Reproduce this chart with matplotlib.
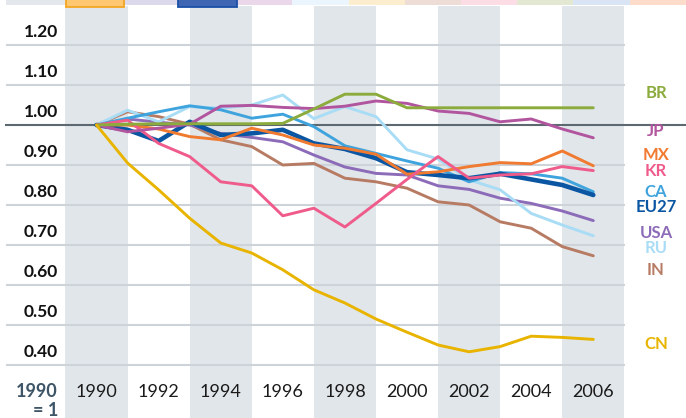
import matplotlib
matplotlib.use("Agg")
import matplotlib.pyplot as plt
from matplotlib.patches import Rectangle

# ---------------- data ----------------
years = list(range(1990, 2007))
tick_years = [1990, 1992, 1994, 1996, 1998, 2000, 2002, 2004, 2006]
y_ticks = [1.20, 1.10, 1.00, 0.90, 0.80, 0.70, 0.60, 0.50, 0.40]

BR = [1.00, 1.002, 1.003, 1.003, 1.003, 1.003, 1.004, 1.040, 1.077, 1.077,
      1.043, 1.043, 1.043, 1.043, 1.043, 1.043, 1.043]
JP = [1.00, 0.983, 0.992, 1.002, 1.047, 1.049, 1.044, 1.041, 1.047, 1.060,
      1.054, 1.035, 1.029, 1.008, 1.015, 0.990, 0.968]
MX = [1.00, 1.000, 0.990, 0.971, 0.963, 0.992, 0.975, 0.950, 0.942, 0.927,
      0.877, 0.883, 0.896, 0.906, 0.903, 0.935, 0.898]
KR = [1.00, 1.012, 0.954, 0.921, 0.858, 0.848, 0.773, 0.792, 0.745, 0.804,
      0.864, 0.921, 0.867, 0.875, 0.878, 0.896, 0.886]
CA = [1.00, 1.017, 1.033, 1.048, 1.038, 1.017, 1.027, 0.996, 0.948, 0.929,
      0.910, 0.892, 0.858, 0.881, 0.878, 0.867, 0.833]
EU27 = [1.00, 0.988, 0.960, 1.008, 0.975, 0.979, 0.988, 0.954, 0.940, 0.917,
        0.882, 0.875, 0.867, 0.878, 0.864, 0.850, 0.825]
USA = [1.00, 1.015, 1.007, 1.000, 0.979, 0.969, 0.958, 0.925, 0.895, 0.879,
       0.875, 0.848, 0.839, 0.817, 0.804, 0.785, 0.761]
RU = [1.00, 1.037, 1.008, 1.046, 1.042, 1.050, 1.075, 1.016, 1.046, 1.021,
      0.938, 0.915, 0.863, 0.838, 0.779, 0.750, 0.723]
IN = [1.00, 1.033, 1.021, 1.002, 0.963, 0.946, 0.900, 0.904, 0.867, 0.858,
      0.842, 0.808, 0.800, 0.758, 0.742, 0.696, 0.673]
CN = [1.00, 0.905, 0.838, 0.767, 0.705, 0.680, 0.638, 0.588, 0.555, 0.515,
      0.482, 0.450, 0.433, 0.446, 0.472, 0.469, 0.464]

series_names = ["IN", "USA", "RU", "CA", "EU27", "MX", "KR", "JP", "BR", "CN"]
series_values = {"BR": BR, "JP": JP, "MX": MX, "KR": KR, "CA": CA, "EU27": EU27,
                 "USA": USA, "RU": RU, "IN": IN, "CN": CN}

# ---------------- style ----------------
colors = {"BR": "#8bab3c", "JP": "#b2559f", "MX": "#f07a30", "KR": "#ef5b8a",
          "CA": "#3fa4dd", "EU27": "#0a56a3", "USA": "#8c6bb8", "RU": "#a9dcf5",
          "IN": "#b77b63", "CN": "#e8b400"}
widths = {k: 2.1 for k in colors}
widths["EU27"] = 3.3
# label vertical centers in pixels (layout)
label_px = {"BR": 92, "JP": 130, "MX": 154, "KR": 170, "CA": 191, "EU27": 206,
            "USA": 232, "RU": 247, "IN": 269, "CN": 343}

W, H = 686, 418
fig = plt.figure(figsize=(W / 100, H / 100), dpi=100)
top_px = 6
ax = fig.add_axes([0, 0, 1, (H - top_px) / H])
ax.axis("off")

X0, PXY = 96.5, 31.05   # pixel of 1990, pixels per year
Y1, PXV = 125.0, 400.0  # pixel of 1.00, pixels per unit


def yr(px):
    return 1990 + (px - X0) / PXY


def val(py):
    return 1 + (Y1 - py) / PXV


ax.set_xlim(yr(0), yr(W))
ax.set_ylim(val(H), val(top_px))

# bands
for c in [1990, 1994, 1998, 2002, 2006]:
    ax.axvspan(c - 1, c + 1, color="#e1e6ea", lw=0, zorder=0)

# gridlines
for v in y_ticks:
    if abs(v - 1.0) < 1e-9:
        continue
    ax.plot([yr(6), yr(625)], [v, v], color="#cdd3d9", lw=1.5, zorder=1,
            solid_capstyle="butt")
ax.plot([yr(5), yr(W)], [1.0, 1.0], color="#5d6970", lw=1.5, zorder=2,
        solid_capstyle="butt")

FONT = "Lato"

# y labels
for v in y_ticks:
    ax.text(yr(58), v + 8 / PXV, f"{v:.2f}", ha="right", va="baseline",
            fontsize=12.5, fontweight="bold", color="#111111", family=FONT)

# x labels
for t in tick_years:
    ax.text(t, val(397), str(t), ha="center", va="baseline", fontsize=13,
            color="#1a1a1a", family=FONT)
ax.text(yr(58), val(397), "1990", ha="right", va="baseline", fontsize=13,
        fontweight="bold", color="#3d5566", family=FONT)
ax.text(yr(58), val(416), "= 1", ha="right", va="baseline", fontsize=13,
        fontweight="bold", color="#3d5566", family=FONT)

# lines
for i, name in enumerate(series_names):
    ax.plot(years, series_values[name], color=colors[name], lw=widths[name],
            solid_joinstyle="round", solid_capstyle="round", zorder=3 + i)

# series labels
for name in series_names:
    ax.text(yr(656), val(label_px[name] + 6), name, ha="center", va="baseline",
            fontsize=12, fontweight="bold", color=colors[name], family=FONT)

# top decorative strip
edges = [6, 66, 124, 178, 237, 292, 349, 405, 461, 517, 573, 630, 686]
strip_cols = ["#e4e7ec", "#ffc870", "#dcd9ec", "#3f66b2", "#ead7ea", "#eaf5fd",
              "#fbedcd", "#eedcd6", "#fddde5", "#e3e8d2", "#d9e5f4", "#fddccb"]
for i, col in enumerate(strip_cols):
    x0, x1 = edges[i], edges[i + 1]
    if i in (1, 3):
        ec = "#f5a623" if i == 1 else "#1a50a8"
        fig.patches.append(Rectangle((x0 / W, 1 - 6.5 / H), (x1 - x0) / W, 7 / H,
                                     transform=fig.transFigure, facecolor=col,
                                     edgecolor=ec, lw=1.3, zorder=5))
    else:
        fig.patches.append(Rectangle((x0 / W, 1 - 5 / H), (x1 - x0) / W, 5 / H,
                                     transform=fig.transFigure, facecolor=col,
                                     edgecolor="none", zorder=4))

fig.savefig("out.png", dpi=100, facecolor="white")
